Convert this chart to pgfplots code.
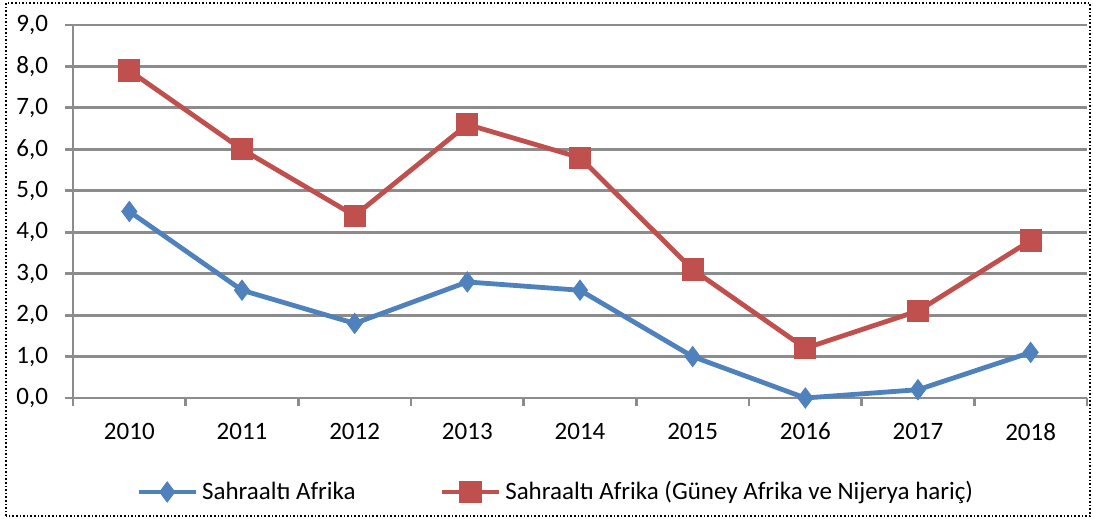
\documentclass[border=0pt]{standalone}
\usepackage{fontspec}
\setmainfont{Carlito}
\usepackage{pgfplots}
\pgfplotsset{compat=1.18}
\definecolor{serblue}{HTML}{4F81BD}
\definecolor{serred}{HTML}{C0504D}
\definecolor{gridgray}{HTML}{8C8C8C}

\begin{document}
\begin{tikzpicture}[font=\fontsize{12.5}{14}\selectfont]
\path[use as bounding box] (0,0) rectangle (546.5pt,259.5pt);
\draw[densely dotted,line width=0.8pt] (3pt,1.5pt) rectangle (545pt,258pt);
\begin{axis}[
  at={(36.5pt,60.5pt)},anchor=south west,
  scale only axis,width=507pt,height=186.5pt,
  xmin=-0.5,xmax=8.5,ymin=0,ymax=9,
  xtick={0,...,8},
  xticklabels={2010,2011,2012,2013,2014,2015,2016,2017,2018},
  minor xtick={-0.5,0.5,...,8.5},
  ytick={0,1,...,9},
  major x tick style={draw=none},
  minor tick length=4pt,major tick length=4pt,
  tick align=outside,
  tick style={gridgray,line width=1.4pt},
  axis x line*=bottom,axis y line*=left,
  axis line style={gridgray,line width=1.4pt,-},
  ymajorgrids,
  major grid style={gridgray,line width=1.4pt},
  yticklabel style={xshift=-5pt,/pgf/number format/.cd,fixed,fixed zerofill,precision=1,use comma,assume math mode=true},
  xticklabel style={yshift=-5pt},
  clip=false,
  legend columns=2,
  legend style={draw=none,fill=none,at={(0.477,-0.252)},anchor=center,
    /tikz/every even column/.append style={column sep=40pt},
    font=\fontsize{12.5}{14}\selectfont},
  legend image code/.code={\draw[mark repeat=2,mark phase=2] plot coordinates {(0cm,0cm)(0.5cm,0cm)(1cm,0cm)};},
]
\addplot[serblue,line width=2.4pt,mark=diamond*,mark size=5pt,mark options={solid,fill=serblue,line width=0.5pt}]
  coordinates {(0,4.5)(1,2.6)(2,1.8)(3,2.8)(4,2.6)(5,1.0)(6,0.0)(7,0.2)(8,1.1)};
\addlegendentry{Sahraaltı Afrika}
\addplot[serred,line width=2.4pt,mark=square*,mark size=5.3pt,mark options={solid,fill=serred,line width=0.5pt}]
  coordinates {(0,7.9)(1,6.0)(2,4.4)(3,6.6)(4,5.8)(5,3.1)(6,1.2)(7,2.1)(8,3.8)};
\addlegendentry{Sahraaltı Afrika (Güney Afrika ve Nijerya hariç)}
\end{axis}
\end{tikzpicture}
\end{document}
